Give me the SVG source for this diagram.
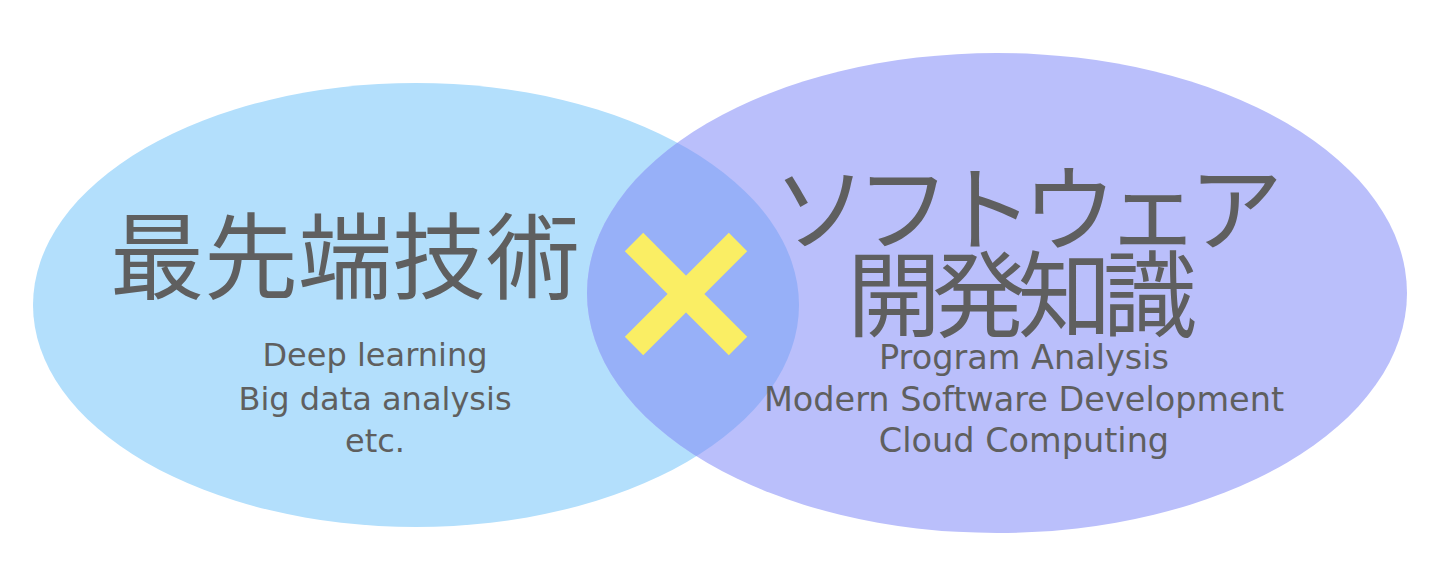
<svg xmlns="http://www.w3.org/2000/svg" width="1433" height="578" viewBox="0 0 1433 578">
  <defs>
    <style>
      .big { font-family: "Noto Sans CJK JP", "Noto Sans", sans-serif; font-size: 94px; fill: #5f5f5f; text-anchor: middle; }
      .small { font-family: "DejaVu Sans", "Liberation Sans", sans-serif; font-size: 32px; fill: #5f5f5f; text-anchor: middle; }
      .small-r { font-size: 33.5px; }
      .cross { stroke: #faee64; stroke-width: 26; stroke-linecap: butt; fill: none; }
    </style>
    <clipPath id="rightClip">
      <ellipse cx="997" cy="293" rx="410" ry="240"/>
    </clipPath>
  </defs>
  <rect width="1433" height="578" fill="#ffffff"/>
  <g id="left-circle">
    <ellipse cx="416" cy="305" rx="383" ry="222" fill="#b3dffc"/>
  </g>
  <g id="right-circle">
    <ellipse cx="997" cy="293" rx="410" ry="240" fill="#babffb"/>
  </g>
  <g id="overlap">
    <ellipse cx="416" cy="305" rx="383" ry="222" fill="#97b0f8" clip-path="url(#rightClip)"/>
  </g>
  <g id="left-text">
    <text class="big" x="345" y="292">最先端技術</text>
    <text class="small" x="375" y="366">Deep learning</text>
    <text class="small" x="375" y="410">Big data analysis</text>
    <text class="small" x="375" y="452">etc.</text>
  </g>
  <g id="right-text">
    <text class="big" x="1028" y="244" textLength="510" lengthAdjust="spacing">ソフトウェア</text>
    <text class="big" x="1022" y="330" textLength="350" lengthAdjust="spacing">開発知識</text>
    <text class="small small-r" x="1024" y="369">Program Analysis</text>
    <text class="small small-r" x="1024" y="411">Modern Software Development</text>
    <text class="small small-r" x="1024" y="452">Cloud Computing</text>
  </g>
  <g id="cross">
    <line class="cross" x1="634" y1="242" x2="738" y2="346"/>
    <line class="cross" x1="738" y1="242" x2="634" y2="346"/>
  </g>
</svg>
